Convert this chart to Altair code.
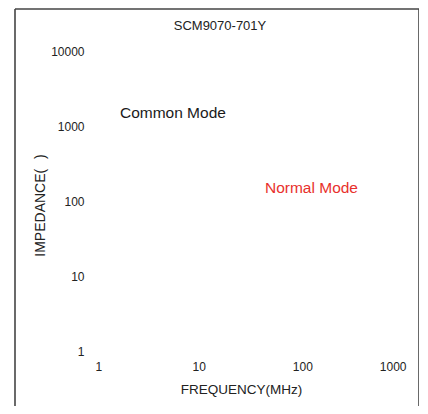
import altair as alt
import pandas as pd

# Data
title_text = "SCM9070-701Y"
x_ticks = [1, 10, 100, 1000]
y_ticks = [1, 10, 100, 1000, 10000]
x_domain = [1, 1000]
y_domain = [1, 10000]
labels = ["Common Mode", "Normal Mode"]
label_x = [1.74, 43.6]
label_y = [1490, 149]
label_color = ["#1a1a1a", "#e8302c"]

FONT = "Liberation Sans"

df = pd.DataFrame({"label": labels, "freq": label_x, "imp": label_y, "color": label_color})

xscale = alt.Scale(type="log", domain=x_domain)
yscale = alt.Scale(type="log", domain=y_domain)

text = alt.Chart(df).mark_text(
    align="left", baseline="middle", font=FONT, fontSize=15.5
).encode(
    x=alt.X("freq:Q", scale=xscale,
            axis=alt.Axis(values=x_ticks, format="d", labelFlush=True, grid=False,
                          domain=False, ticks=False, tickSize=0, labelPadding=10,
                          labelFontSize=12, labelFont=FONT, labelColor="#222",
                          title="FREQUENCY(MHz)", titleFont=FONT, titleFontSize=13.5,
                          titleFontWeight="normal", titleColor="#222",
                          titleX=146, titlePadding=10)),
    y=alt.Y("imp:Q", scale=yscale,
            axis=alt.Axis(values=y_ticks, format="d", grid=False, domain=False,
                          ticks=False, tickSize=0, labelPadding=11,
                          labelFontSize=12, labelFont=FONT, labelColor="#222",
                          title="IMPEDANCE(\u2002\u2009)", titleFont=FONT, titleFontSize=14,
                          titleFontWeight="normal", titleColor="#222",
                          titleX=-55, titleY=154, titleBaseline="middle", titleAngle=-90)),
    text="label:N",
    color=alt.Color("color:N", scale=None),
)

one = pd.DataFrame({"a": [0]})
title_mark = alt.Chart(pd.DataFrame({"t": [title_text]})).mark_text(
    align="center", baseline="middle", font=FONT, fontSize=13, color="#222"
).encode(x=alt.value(125), y=alt.value(-25), text="t:N")

bc = "#444444"
left = alt.Chart(one).mark_rule(color=bc, strokeWidth=1.6).encode(
    x=alt.value(-80), y=alt.value(-42), y2=alt.value(400))
right = alt.Chart(one).mark_rule(color=bc, strokeWidth=1.6).encode(
    x=alt.value(324), y=alt.value(-42), y2=alt.value(400))
top = alt.Chart(one).mark_rule(color=bc, strokeWidth=1.6).encode(
    x=alt.value(-80), x2=alt.value(324), y=alt.value(-42))

chart = alt.layer(text, title_mark, left, right, top).properties(
    width=311, height=300,
    autosize=alt.AutoSizeParams(type="none"),
    padding={"left": 87, "top": 43, "right": 13, "bottom": 55},
).configure_view(stroke=None)

chart.save("out.html", embed_options={"renderer": "svg", "actions": False})
